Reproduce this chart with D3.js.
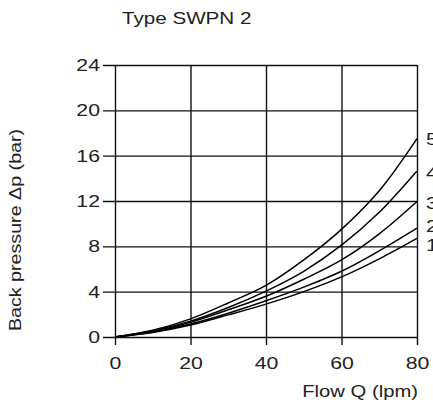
<!DOCTYPE html>
<html>
<head>
<meta charset="utf-8">
<script src="https://cdn.jsdelivr.net/npm/d3@7"></script>
<style>
  body { margin: 0; background: #fff; }
  text { font-family: "Liberation Sans", Arial, sans-serif; fill: #222; }
</style>
</head>
<body>
<div id="chart"></div>
<script>
// flow values (lpm) and back pressure (bar) for each curve
const flow = [0, 10, 20, 30, 40, 50, 60, 70, 80];
const curve1 = [0, 0.4, 1.05, 1.95, 2.9, 4.0, 5.3, 6.9, 8.7];
const curve2 = [0, 0.45, 1.15, 2.1, 3.2, 4.4, 5.8, 7.6, 9.6];
const curve3 = [0, 0.5, 1.3, 2.4, 3.6, 5.1, 6.8, 9.1, 11.95];
const curve4 = [0, 0.55, 1.4, 2.6, 4.05, 5.8, 8.1, 11.0, 14.65];
const curve5 = [0, 0.6, 1.6, 3.0, 4.55, 6.8, 9.5, 12.9, 17.5];
const curveNames = ["1", "2", "3", "4", "5"];
const xTicks = [0, 20, 40, 60, 80];
const yTicks = [0, 4, 8, 12, 16, 20, 24];

let width = 433, height = 405,
    margin = ({ top: 65, right: 16, bottom: 68, left: 115 });

const sx = 1.25; // the original font is a wide one, stretch text horizontally

const svg = d3.select("#chart")
    .append("svg")
    .attr("width", width)
    .attr("height", height);

let x = d3.scaleLinear()
    .domain([0, 80])
    .range([margin.left, width - margin.right]);

let y = d3.scaleLinear()
    .domain([0, 24])
    .range([height - margin.bottom, margin.top]);

// grid + ticks
svg.append("g")
    .attr("transform", `translate(0,${height - margin.bottom})`)
    .call(d3.axisBottom(x).tickValues(xTicks).tickSize(-(height - margin.top - margin.bottom)).tickSizeOuter(0).tickPadding(20))
    .call(g => g.select(".domain").remove())
    .call(g => g.selectAll(".tick line").attr("stroke", "#111").attr("stroke-width", 1.4)
        .attr("y1", 8))
    .call(g => g.selectAll(".tick text").attr("font-size", 17).attr("fill", "#222")
        .attr("transform", `scale(${sx},1)`)
        .attr("font-family", "Liberation Sans, Arial, sans-serif"));

svg.append("g")
    .attr("transform", `translate(${margin.left},0)`)
    .call(d3.axisLeft(y).tickValues(yTicks).tickSize(-(width - margin.left - margin.right)).tickSizeOuter(0))
    .call(g => g.select(".domain").remove())
    .call(g => g.selectAll(".tick line").attr("stroke", "#111").attr("stroke-width", 1.4)
        .attr("x1", -12))
    .call(g => g.selectAll(".tick text").attr("font-size", 17).attr("fill", "#222")
        .attr("x", -15 / sx)
        .attr("transform", `scale(${sx},1)`)
        .attr("font-family", "Liberation Sans, Arial, sans-serif"));

// curves
const series = [curve1, curve2, curve3, curve4, curve5];
const line = d3.line()
    .x((d, i) => x(flow[i]))
    .y(d => y(d))
    .curve(d3.curveCatmullRom.alpha(0.5));

svg.append("g")
    .selectAll("path")
    .data(series)
    .join("path")
    .attr("d", d => line(d))
    .attr("fill", "none")
    .attr("stroke", "#000")
    .attr("stroke-width", 1.5);

// curve labels (small nudges so 1 and 2 don't collide)
const labelNudge = [-0.6, 0.2, -0.1, -0.2, 0];
svg.append("g")
    .selectAll("text")
    .data(series)
    .join("text")
    .attr("transform", (d, i) => `translate(${x(80) + 9},${y(d[d.length - 1] + labelNudge[i])}) scale(${sx},1)`)
    .attr("dy", "0.35em")
    .attr("font-size", 17)
    .text((d, i) => curveNames[i]);

// titles
svg.append("text")
    .attr("transform", `translate(122,24) scale(${sx},1)`)
    .attr("font-size", 16.5)
    .text("Type SWPN 2");

svg.append("text")
    .attr("transform", `translate(${width - margin.right + 1},397) scale(${sx},1)`)
    .attr("text-anchor", "end")
    .attr("font-size", 16.2)
    .text("Flow Q (lpm)");

svg.append("text")
    .attr("transform", `translate(21,230) rotate(-90) scale(1.23,1)`)
    .attr("text-anchor", "middle")
    .attr("font-size", 16)
    .text("Back pressure Δp (bar)");
</script>
</body>
</html>
